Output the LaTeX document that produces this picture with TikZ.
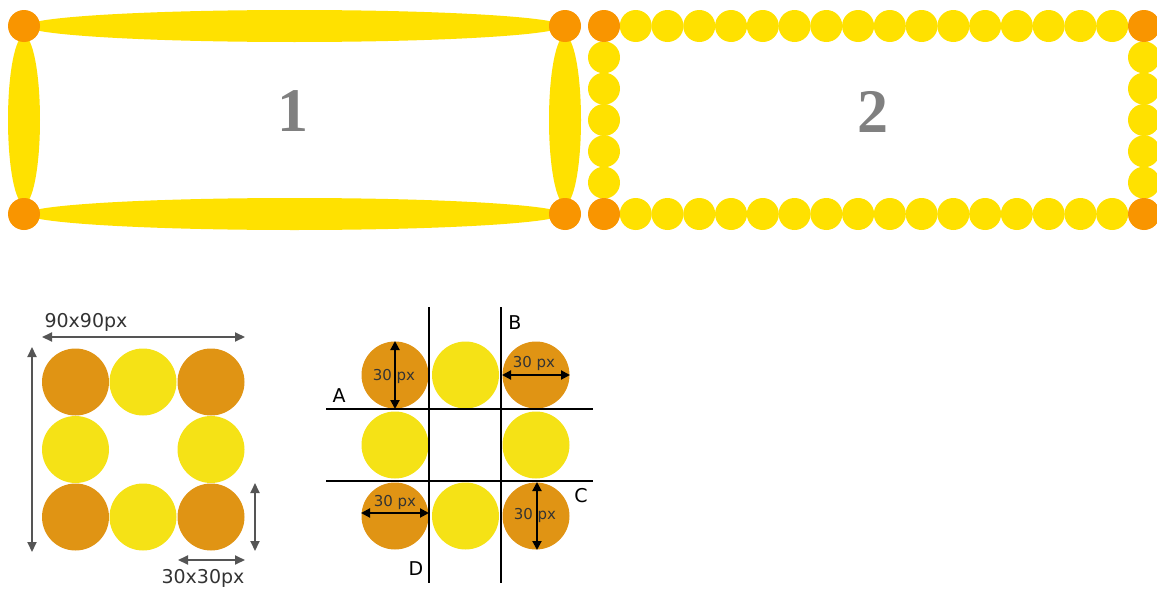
\documentclass[tikz,border=0pt]{standalone}
\usepackage{fontspec}
\setmainfont{Liberation Serif}
\newfontfamily\lblfont{DejaVu Sans}
\usetikzlibrary{shapes.geometric,arrows.meta}
\definecolor{topyellow}{RGB}{255,225,0}
\definecolor{toporange}{RGB}{249,149,0}
\definecolor{lowyellow}{RGB}{245,226,22}
\definecolor{loworange}{RGB}{224,148,20}
\definecolor{dimgray}{RGB}{85,85,85}
\definecolor{txtgray}{RGB}{128,128,128}
\tikzset{
  tdot/.style={circle,fill=topyellow,inner sep=0pt,minimum size=32pt},
  tcorner/.style={circle,fill=toporange,inner sep=0pt,minimum size=32pt},
  hlens/.style={ellipse,fill=topyellow,inner sep=0pt,minimum width=536pt,minimum height=32pt},
  vlens/.style={ellipse,fill=topyellow,inner sep=0pt,minimum width=32pt,minimum height=168pt},
  bigdigit/.style={text=txtgray,font=\fontsize{62}{62}\selectfont\bfseries},
  ly/.style={circle,fill=lowyellow,inner sep=0pt,minimum size=67pt},
  lo/.style={circle,fill=loworange,inner sep=0pt,minimum size=67pt},
  dimarrow/.style={draw=dimgray,line width=2pt,{Triangle[length=10pt,width=9pt]}-{Triangle[length=10pt,width=9pt]}},
  blkarrow/.style={draw=black,line width=2pt,{Triangle[length=9pt,width=9pt]}-{Triangle[length=9pt,width=9pt]}},
  gridline/.style={draw=black,line width=2pt},
  dimtext/.style={text=black!80,font=\lblfont\fontsize{19}{19}\selectfont,inner sep=0pt},
  pxtext/.style={text=black!80,font=\lblfont\fontsize{15}{15}\selectfont,inner sep=0pt},
  lettertext/.style={text=black,font=\lblfont\fontsize{19}{19}\selectfont,inner sep=0pt}
}
\begin{document}
\begin{tikzpicture}[x=1pt,y=-1pt]
\useasboundingbox (0,0) rectangle (1157,589);
% ---------- box 1 ----------
\node[hlens] (h1top) at (294.5,26) {};
\node[hlens] (h1bot) at (294.5,214) {};
\node[vlens] (v1left) at (24,120) {};
\node[vlens] (v1right) at (565,120) {};
\node[tcorner] (c1tl) at (24,26) {};
\node[tcorner] (c1tr) at (565,26) {};
\node[tcorner] (c1bl) at (24,214) {};
\node[tcorner] (c1br) at (565,214) {};
\node[bigdigit] (one) at (293,111.5) {1};
% ---------- box 2 ----------
\foreach \i in {1,...,16} {
  \node[tdot] (t2top\i) at ({604+\i*31.76},26) {};
  \node[tdot] (t2bot\i) at ({604+\i*31.76},214) {};
}
\foreach \j in {1,...,5} {
  \node[tdot] (t2left\j) at (604,{26+\j*31.33}) {};
  \node[tdot] (t2right\j) at (1144,{26+\j*31.33}) {};
}
\node[tcorner] (c2tl) at (604,26) {};
\node[tcorner] (c2tr) at (1144,26) {};
\node[tcorner] (c2bl) at (604,214) {};
\node[tcorner] (c2br) at (1144,214) {};
\node[bigdigit] (two) at (873,111.5) {2};
% ---------- lower left ----------
\node[lo] (l11) at (75.5,382) {};
\node[ly] (l12) at (143,382) {};
\node[lo] (l13) at (211,382) {};
\node[ly] (l21) at (75.5,449.5) {};
\node[ly] (l23) at (211,449.5) {};
\node[lo] (l31) at (75.5,517) {};
\node[ly] (l32) at (143,517) {};
\node[lo] (l33) at (211,517) {};
\coordinate (hA) at (42,337);
\coordinate (hB) at (245,337);
\coordinate (vA) at (32,347);
\coordinate (vB) at (32,552);
\coordinate (sA) at (255,483);
\coordinate (sB) at (255,551);
\coordinate (bA) at (178,560);
\coordinate (bB) at (245,560);
\draw[dimarrow] (hA) -- (hB);
\draw[dimarrow] (vA) -- (vB);
\draw[dimarrow] (sA) -- (sB);
\draw[dimarrow] (bA) -- (bB);
\node[dimtext] (t90) at (86,322) {90x90px};
\node[dimtext] (t30) at (203,578) {30x30px};
% ---------- lower middle ----------
\node[lo] (m11) at (395,375) {};
\node[ly] (m12) at (465.5,375) {};
\node[lo] (m13) at (536,375) {};
\node[ly] (m21) at (395,445) {};
\node[ly] (m23) at (536,445) {};
\node[lo] (m31) at (395,516) {};
\node[ly] (m32) at (465.5,516) {};
\node[lo] (m33) at (536,516) {};
\coordinate (gv1a) at (429,307);
\coordinate (gv1b) at (429,583);
\coordinate (gv2a) at (501,307);
\coordinate (gv2b) at (501,583);
\coordinate (gh1a) at (326,409);
\coordinate (gh1b) at (593,409);
\coordinate (gh2a) at (326,481);
\coordinate (gh2b) at (593,481);
\draw[gridline] (gv1a) -- (gv1b);
\draw[gridline] (gv2a) -- (gv2b);
\draw[gridline] (gh1a) -- (gh1b);
\draw[gridline] (gh2a) -- (gh2b);
\node[pxtext] (p1) at (394,376) {30 px};
\node[pxtext] (p2) at (534,363) {30 px};
\node[pxtext] (p3) at (395,502) {30 px};
\node[pxtext] (p4) at (535,515) {30 px};
\coordinate (a1a) at (395,341);
\coordinate (a1b) at (395,409);
\coordinate (a2a) at (502,375);
\coordinate (a2b) at (570,375);
\coordinate (a3a) at (361,513);
\coordinate (a3b) at (429,513);
\coordinate (a4a) at (537,482);
\coordinate (a4b) at (537,550);
\draw[blkarrow] (a1a) -- (a1b);
\draw[blkarrow] (a2a) -- (a2b);
\draw[blkarrow] (a3a) -- (a3b);
\draw[blkarrow] (a4a) -- (a4b);
\node[lettertext] (lA) at (339,396) {A};
\node[lettertext] (lB) at (515,323) {B};
\node[lettertext] (lC) at (581,496) {C};
\node[lettertext] (lD) at (416,569) {D};
\end{tikzpicture}
\end{document}
